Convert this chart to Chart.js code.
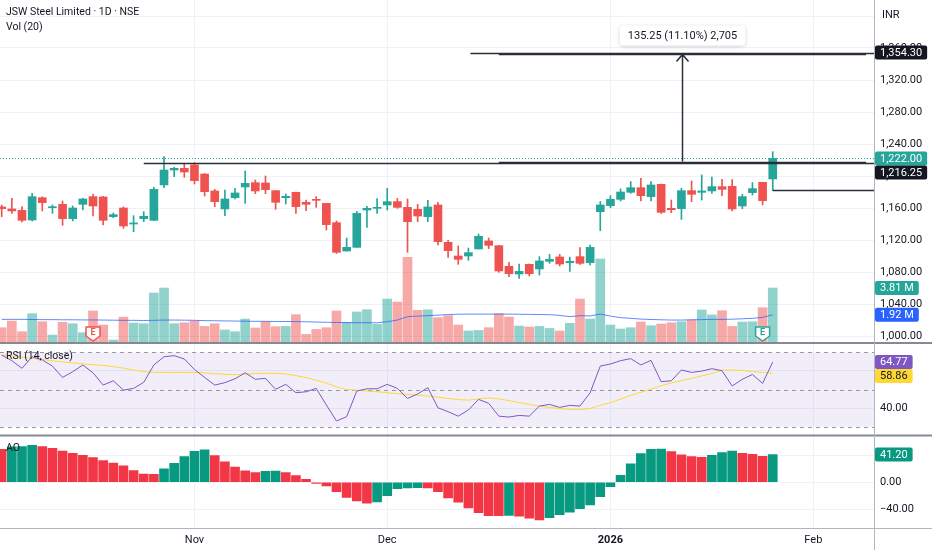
<!DOCTYPE html>
<html>
<head>
<meta charset="utf-8">
<title>JSW Steel Limited · 1D · NSE</title>
<script src="https://cdn.jsdelivr.net/npm/chart.js@4.4.1/dist/chart.umd.min.js"></script>
<style>
    html, body { margin: 0; padding: 0; background: #ffffff; }
    canvas { display: block; }
</style>
</head>
<body>
<canvas id="chart" width="932" height="550"></canvas>
<script>
// Daily bars (one entry per trading day)
const opens = [
    1161.3, 1158.8, 1157.1, 1145.0, 1172.9, 1160.4, 1164.6, 1146.7, 1164.6, 1174.2,
    1173.8, 1149.2, 1160.0, 1140.0, 1146.7, 1144.6, 1188.8, 1207.5, 1209.6, 1213.8,
    1202.5, 1181.3, 1158.8, 1172.9, 1186.3, 1191.7, 1191.3, 1181.7, 1172.9, 1179.6,
    1167.1, 1170.8, 1165.8, 1141.7, 1106.3, 1110.8, 1157.5, 1159.6, 1163.8, 1168.0,
    1160.8, 1158.3, 1149.2, 1163.8, 1117.1, 1100.0, 1100.0, 1108.8, 1118.8, 1112.9,
    1087.1, 1077.5, 1089.6, 1083.8, 1093.3, 1098.8, 1091.7, 1099.2, 1091.7, 1155.4,
    1162.9, 1170.8, 1179.6, 1185.4, 1174.2, 1189.6, 1159.6, 1159.2, 1181.7, 1179.6,
    1181.3, 1186.7, 1187.1, 1162.5, 1179.2, 1192.1, 1196.3
];
const highs = [
    1163.7, 1172.1, 1161.7, 1178.3, 1174.0, 1163.8, 1168.8, 1162.5, 1172.0, 1177.5,
    1174.6, 1153.8, 1161.3, 1150.4, 1155.4, 1185.8, 1224.2, 1210.8, 1215.8, 1216.7,
    1203.0, 1183.3, 1182.5, 1184.6, 1206.3, 1195.0, 1200.0, 1182.0, 1177.5, 1180.0,
    1170.0, 1174.2, 1166.0, 1143.8, 1122.5, 1155.8, 1162.0, 1171.7, 1184.6, 1172.0,
    1171.3, 1164.6, 1169.6, 1167.1, 1119.6, 1112.5, 1110.0, 1127.5, 1122.5, 1113.0,
    1092.1, 1090.0, 1090.0, 1099.2, 1102.0, 1102.0, 1098.8, 1110.4, 1113.8, 1168.0,
    1175.4, 1183.8, 1193.0, 1197.1, 1192.9, 1190.0, 1170.0, 1184.6, 1193.8, 1201.3,
    1198.8, 1195.8, 1195.4, 1177.1, 1191.7, 1192.1, 1230.4
];
const lows = [
    1149.2, 1153.3, 1142.5, 1143.8, 1156.3, 1153.3, 1138.3, 1143.8, 1157.5, 1150.0,
    1138.8, 1147.9, 1134.6, 1130.4, 1142.9, 1144.2, 1185.4, 1199.2, 1198.3, 1190.0,
    1175.0, 1161.7, 1150.4, 1171.3, 1165.8, 1177.9, 1177.9, 1158.3, 1165.0, 1153.3,
    1156.7, 1160.8, 1132.5, 1103.3, 1106.0, 1110.8, 1135.8, 1153.3, 1157.5, 1159.6,
    1104.6, 1142.9, 1142.9, 1113.8, 1098.3, 1089.6, 1094.6, 1108.8, 1109.2, 1079.6,
    1074.2, 1072.1, 1075.0, 1076.3, 1090.8, 1087.5, 1080.8, 1089.6, 1088.8, 1131.7,
    1160.4, 1168.8, 1178.3, 1168.8, 1168.8, 1153.3, 1154.2, 1145.8, 1167.9, 1170.0,
    1178.3, 1175.4, 1156.3, 1159.2, 1176.3, 1163.8, 1181.7
];
const closes = [
    1159.2, 1156.3, 1144.6, 1174.2, 1166.7, 1161.3, 1146.7, 1160.0, 1171.3, 1162.5,
    1144.6, 1151.7, 1137.5, 1141.3, 1149.6, 1183.3, 1207.5, 1209.6, 1205.0, 1194.2,
    1180.4, 1167.9, 1171.3, 1178.8, 1190.8, 1181.3, 1182.9, 1167.1, 1174.6, 1161.7,
    1164.6, 1169.6, 1139.2, 1104.6, 1110.8, 1153.3, 1159.6, 1160.0, 1167.9, 1160.8,
    1142.9, 1150.0, 1161.3, 1117.9, 1106.7, 1095.8, 1104.2, 1124.6, 1113.3, 1081.3,
    1077.9, 1080.8, 1077.9, 1093.8, 1095.8, 1090.0, 1093.3, 1090.8, 1110.8, 1163.8,
    1170.8, 1180.0, 1185.4, 1175.4, 1188.8, 1154.6, 1157.9, 1181.7, 1177.1, 1181.3,
    1186.7, 1183.3, 1158.8, 1174.2, 1184.2, 1169.2, 1222.0
];
// volume in millions, and its 20 day average
const volumes = [
    1.01, 1.48, 0.73, 2.00, 1.43, 0.49, 1.39, 1.29, 0.66, 2.19,
    1.20, 0.14, 1.76, 1.34, 1.29, 3.46, 3.81, 1.29, 1.36, 1.48,
    1.10, 1.29, 0.85, 0.73, 1.62, 0.99, 1.43, 1.08, 1.10, 1.93,
    0.54, 0.89, 1.01, 2.19, 1.39, 2.12, 2.28, 1.25, 3.03, 2.82,
    5.98, 2.24, 2.28, 1.72, 1.86, 1.20, 0.78, 0.82, 1.01, 2.00,
    1.76, 1.13, 1.06, 1.10, 0.96, 0.78, 1.32, 3.03, 1.62, 5.86,
    1.20, 0.92, 1.01, 1.41, 1.15, 1.27, 1.36, 1.43, 1.55, 2.26,
    1.91, 2.21, 1.10, 1.41, 1.43, 2.42, 3.81
];
const volumeMA = [
    1.60, 1.60, 1.60, 1.59, 1.58, 1.58, 1.57, 1.57, 1.56, 1.56,
    1.55, 1.54, 1.53, 1.53, 1.52, 1.53, 1.55, 1.55, 1.54, 1.53,
    1.51, 1.50, 1.49, 1.48, 1.47, 1.46, 1.46, 1.45, 1.45, 1.44,
    1.43, 1.41, 1.39, 1.38, 1.37, 1.36, 1.36, 1.36, 1.43, 1.55,
    1.79, 1.83, 1.86, 1.90, 1.94, 1.96, 1.97, 1.97, 1.97, 1.97,
    1.97, 1.96, 1.95, 1.94, 1.93, 1.88, 1.79, 1.86, 1.84, 1.97,
    1.83, 1.72, 1.67, 1.62, 1.59, 1.57, 1.55, 1.55, 1.57, 1.58,
    1.60, 1.60, 1.61, 1.64, 1.67, 1.74, 1.92
];
const rsiValues = [
    68.5, 65.5, 61.4, 67.6, 65.9, 62.6, 56.5, 59.6, 63.2, 59.0,
    52.4, 54.7, 49.7, 50.6, 53.9, 63.2, 67.6, 68.2, 66.4, 60.8,
    56.5, 52.4, 53.7, 55.8, 59.0, 55.5, 56.0, 50.1, 52.8, 48.3,
    48.8, 50.6, 41.7, 33.1, 35.4, 49.2, 50.4, 50.4, 52.8, 50.6,
    45.2, 47.6, 51.0, 40.2, 38.1, 35.7, 39.0, 44.7, 42.6, 35.7,
    35.2, 36.1, 35.7, 41.1, 42.0, 40.4, 41.5, 41.1, 48.3, 62.6,
    63.7, 65.5, 66.6, 63.2, 65.7, 54.2, 54.7, 60.5, 59.2, 59.9,
    61.2, 60.1, 51.9, 55.5, 58.1, 53.3, 64.77
];
const rsiMA = [
    68.5, 68.0, 67.4, 66.8, 66.2, 65.4, 64.8, 64.3, 63.8, 63.3,
    63.0, 62.3, 61.5, 60.5, 59.6, 59.2, 59.2, 59.2, 59.2, 59.2,
    58.9, 58.5, 58.2, 58.0, 58.3, 58.6, 58.7, 58.7, 58.4, 57.5,
    56.4, 55.0, 53.4, 51.5, 50.0, 49.6, 49.2, 48.8, 48.3, 47.8,
    47.4, 47.0, 46.5, 45.9, 45.2, 44.6, 44.3, 45.0, 45.5, 45.0,
    44.0, 43.0, 42.0, 41.1, 40.4, 39.8, 39.4, 39.3, 39.8, 41.5,
    43.0, 44.8, 46.8, 48.5, 50.3, 52.0, 53.5, 54.8, 56.0, 57.3,
    58.6, 60.4, 60.5, 60.2, 59.6, 59.2, 58.86
];
// Awesome Oscillator
const aoValues = [
    48.9, 52.5, 53.0, 54.7, 52.8, 50.3, 46.4, 42.9, 40.0, 36.5,
    32.3, 28.3, 24.3, 17.4, 12.2, 11.7, 20.0, 27.9, 38.0, 45.9,
    47.9, 39.5, 30.2, 22.7, 16.8, 14.3, 16.3, 16.6, 14.3, 9.9,
    4.4, -1.5, -5.5, -13.9, -22.3, -27.7, -31.1, -29.1, -19.8, -9.4,
    -8.4, -7.9, -8.4, -13.9, -23.3, -29.6, -38.0, -44.9, -49.4, -49.6,
    -49.0, -50.0, -53.3, -55.8, -52.3, -47.9, -44.4, -39.0, -33.6, -21.2,
    -6.4, 10.4, 27.2, 42.5, 48.9, 49.3, 45.4, 40.5, 38.0, 37.0,
    40.0, 43.9, 46.4, 43.0, 41.5, 38.5, 41.2
];

// axis ticks (bar index of the first session of each month)
const monthTicks = [19, 38, 60, 80];
const monthLabels = ["Nov", "Dec", "2026", "Feb"];
const priceTicks = [1000, 1040, 1080, 1120, 1160, 1200, 1240, 1280, 1320, 1360, 1400];
const rsiTicks = [40, 60];
const rsiLevels = [30, 50, 70];
const aoTicks = [-40, 0, 40];

// drawings: horizontal rays (level, starting bar) and the price range tool
const rayLevels = [1216.25, 1354.30, 1182.0];
const rayStarts = [14, 46.2, 76];
const rangeLevels = [1219.05, 1354.30];
const rangeBars = [49, 85.2];
const rangeText = "135.25 (11.10%) 2,705";
const earningsBars = [9, 75];
const earningsKinds = ["down", "up"];

const UP = "#26a69a";
const DOWN = "#ef5350";
const AO_UP = "#089981";
const AO_DOWN = "#f23645";
const GRID = "#eef1f6";
const TEXT = "#131722";
const LINE = "#2a2e39";

Chart.defaults.font.family = "Roboto, 'Noto Sans', sans-serif";
Chart.defaults.font.size = 11;
Chart.defaults.color = TEXT;

const n = closes.length;
const idx = closes.map((_, i) => i);
const isUp = (i) => closes[i] >= opens[i];
const fmtPrice = (v) =>
    v.toLocaleString("en-US", { minimumFractionDigits: 2, maximumFractionDigits: 2 });
const fmtSigned = (v) => (v < 0 ? "\u2212" + Math.abs(v).toFixed(2) : v.toFixed(2));

function hLine(ctx, x1, x2, y) {
    y = Math.round(y) + 0.5;
    ctx.beginPath();
    ctx.moveTo(x1, y);
    ctx.lineTo(x2, y);
    ctx.stroke();
}

function fitAxis(scale) {
    scale.width = 58;
    scale.paddingTop = 0;
    scale.paddingBottom = 0;
}

function drawBadge(ctx, x, y, text, bg, fg) {
    ctx.font = "11px Roboto, 'Noto Sans', sans-serif";
    const w = ctx.measureText(text).width + 10;
    ctx.fillStyle = bg;
    ctx.beginPath();
    ctx.roundRect(x + 1, y - 7, w, 14, 2);
    ctx.fill();
    ctx.fillStyle = fg;
    ctx.textAlign = "left";
    ctx.textBaseline = "middle";
    ctx.fillText(text, x + 6, y + 0.5);
}

const overlay = {
    id: "overlay",
    beforeDatasetsDraw(chart) {
        const { ctx, chartArea: a, scales } = chart;
        const rsi = scales.rsi;
        ctx.save();
        // RSI band between 30 and 70
        const yTop = rsi.getPixelForValue(rsiLevels[2]);
        const yBot = rsi.getPixelForValue(rsiLevels[0]);
        ctx.fillStyle = "rgba(126, 87, 194, 0.1)";
        ctx.fillRect(a.left, yTop, a.width, yBot - yTop);
        ctx.strokeStyle = "#9598a1";
        ctx.lineWidth = 1;
        ctx.setLineDash([4, 4]);
        rsiLevels.forEach((v) => hLine(ctx, a.left, a.right, rsi.getPixelForValue(v)));
        // last price line
        ctx.strokeStyle = UP;
        ctx.setLineDash([1, 2]);
        hLine(ctx, a.left, a.right, scales.price.getPixelForValue(closes[n - 1]));
        ctx.restore();
    },
    afterDatasetsDraw(chart) {
        const { ctx, chartArea: a, scales } = chart;
        const { x, price } = scales;
        ctx.save();
        ctx.strokeStyle = LINE;
        ctx.lineWidth = 1.5;
        rayLevels.forEach((lvl, k) => {
            hLine(ctx, x.getPixelForValue(rayStarts[k]), a.right, price.getPixelForValue(lvl));
        });

        // price range measurement
        const rx1 = x.getPixelForValue(rangeBars[0]);
        const rx2 = x.getPixelForValue(rangeBars[1]);
        const yLo = Math.round(price.getPixelForValue(rangeLevels[0])) + 0.5;
        const yHi = Math.round(price.getPixelForValue(rangeLevels[1])) + 0.5;
        hLine(ctx, rx1, rx2, yLo);
        hLine(ctx, rx1, rx2, yHi);
        const cx = Math.round((rx1 + rx2) / 2) + 0.5;
        ctx.beginPath();
        ctx.moveTo(cx, yLo);
        ctx.lineTo(cx, yHi);
        ctx.moveTo(cx - 6, yHi + 8);
        ctx.lineTo(cx, yHi + 1);
        ctx.lineTo(cx + 6, yHi + 8);
        ctx.stroke();

        ctx.font = "11px Roboto, 'Noto Sans', sans-serif";
        const bw = ctx.measureText(rangeText).width + 16;
        const bh = 20;
        const by = yHi - 8 - bh;
        ctx.shadowColor = "rgba(0, 0, 0, 0.18)";
        ctx.shadowBlur = 4;
        ctx.shadowOffsetY = 1;
        ctx.fillStyle = "#ffffff";
        ctx.beginPath();
        ctx.roundRect(cx - bw / 2, by, bw, bh, 4);
        ctx.fill();
        ctx.shadowColor = "transparent";
        ctx.fillStyle = TEXT;
        ctx.textAlign = "center";
        ctx.textBaseline = "middle";
        ctx.fillText(rangeText, cx, by + bh / 2 + 0.5);

        // earnings markers
        earningsBars.forEach((b, k) => {
            const col = earningsKinds[k] === "up" ? UP : DOWN;
            const mx = x.getPixelForValue(b);
            const bottom = price.bottom - 2;
            const top = bottom - 15;
            ctx.beginPath();
            ctx.moveTo(mx - 7, top + 1);
            ctx.lineTo(mx + 7, top + 1);
            ctx.lineTo(mx + 7, top + 10);
            ctx.lineTo(mx, bottom);
            ctx.lineTo(mx - 7, top + 10);
            ctx.closePath();
            ctx.lineJoin = "round";
            ctx.fillStyle = "#ffffff";
            ctx.fill();
            ctx.strokeStyle = col;
            ctx.lineWidth = 1.5;
            ctx.stroke();
            ctx.fillStyle = col;
            ctx.font = "bold 9px Roboto, 'Noto Sans', sans-serif";
            ctx.textAlign = "center";
            ctx.textBaseline = "middle";
            ctx.fillText("E", mx, top + 6.5);
        });
        ctx.restore();
    },
    afterDraw(chart) {
        const { ctx, chartArea: a, scales, width, height } = chart;
        const { price, rsi, ao, vol } = scales;
        ctx.save();
        // pane separators and axis borders
        ctx.strokeStyle = "#868993";
        ctx.lineWidth = 2;
        [price.bottom, rsi.bottom].forEach((y) => {
            ctx.beginPath();
            ctx.moveTo(0, y);
            ctx.lineTo(width, y);
            ctx.stroke();
        });
        ctx.strokeStyle = "#b2b5be";
        ctx.lineWidth = 1;
        hLine(ctx, 0, width, a.bottom);
        ctx.beginPath();
        ctx.moveTo(Math.round(a.right) + 0.5, 0);
        ctx.lineTo(Math.round(a.right) + 0.5, height);
        ctx.stroke();

        // last value badges on the right scale
        const badges = [
            { s: price, v: rayLevels[1], t: fmtPrice(rayLevels[1]), bg: TEXT, fg: "#ffffff" },
            { s: price, v: closes[n - 1], t: fmtPrice(closes[n - 1]), bg: UP, fg: "#ffffff" },
            { s: price, v: rayLevels[0], t: fmtPrice(rayLevels[0]), bg: TEXT, fg: "#ffffff" },
            { s: vol, v: volumes[n - 1], t: volumes[n - 1].toFixed(2) + " M", bg: UP, fg: "#ffffff" },
            { s: vol, v: volumeMA[n - 1], t: volumeMA[n - 1].toFixed(2) + " M", bg: "#2962ff", fg: "#ffffff" },
            { s: rsi, v: rsiValues[n - 1], t: rsiValues[n - 1].toFixed(2), bg: "#7e57c2", fg: "#ffffff" },
            { s: rsi, v: rsiMA[n - 1], t: rsiMA[n - 1].toFixed(2), bg: "#fdd835", fg: TEXT },
            { s: ao, v: aoValues[n - 1], t: fmtSigned(aoValues[n - 1]), bg: AO_UP, fg: "#ffffff" },
        ];
        const placed = [];
        badges.forEach((b) => {
            let y = b.s.getPixelForValue(b.v);
            placed.forEach((p) => {
                if (Math.abs(y - p) < 14) y = p + 14;
            });
            placed.push(y);
            drawBadge(ctx, a.right, y, b.t, b.bg, b.fg);
        });

        // legends
        ctx.fillStyle = TEXT;
        ctx.textAlign = "left";
        ctx.textBaseline = "middle";
        ctx.font = "10.5px Roboto, 'Noto Sans', sans-serif";
        ctx.fillText("JSW Steel Limited \u00b7 1D \u00b7 NSE", 6, 12);
        ctx.fillText("Vol (20)", 6, 27);
        ctx.fillText("RSI (14, close)", 6, rsi.top + 13);
        ctx.fillText("AO", 6, ao.top + 13);
        ctx.font = "11px Roboto, 'Noto Sans', sans-serif";
        ctx.fillText("INR", a.right + 8, 15);
        ctx.restore();
    },
};

const candleColor = (c) => (isUp(c.dataIndex) ? UP : DOWN);
const volumeColor = (c) => (isUp(c.dataIndex) ? "rgba(38, 166, 154, 0.5)" : "rgba(239, 83, 80, 0.5)");
const aoColor = (c) => {
    const i = c.dataIndex;
    return i > 0 && aoValues[i] > aoValues[i - 1] ? AO_UP : AO_DOWN;
};

new Chart(document.getElementById("chart"), {
    type: "bar",
    data: {
        datasets: [
            {
                label: "Body",
                data: idx.map((i) => ({ x: i, y: [opens[i], closes[i]] })),
                yAxisID: "price",
                backgroundColor: candleColor,
                barThickness: 8,
                minBarLength: 1,
                grouped: false,
            },
            {
                label: "Wick",
                data: idx.map((i) => ({ x: i, y: [lows[i], highs[i]] })),
                yAxisID: "price",
                backgroundColor: candleColor,
                barThickness: 1,
                grouped: false,
            },
            {
                type: "line",
                label: "Vol MA",
                data: idx.map((i) => ({ x: i, y: volumeMA[i] })),
                yAxisID: "vol",
                borderColor: "rgba(41, 98, 255, 0.75)",
                borderWidth: 1,
                pointRadius: 0,
            },
            {
                label: "Volume",
                data: idx.map((i) => ({ x: i, y: volumes[i] })),
                yAxisID: "vol",
                backgroundColor: volumeColor,
                barThickness: 9,
                grouped: false,
            },
            {
                type: "line",
                label: "RSI",
                data: idx.map((i) => ({ x: i, y: rsiValues[i] })),
                yAxisID: "rsi",
                borderColor: "#7e57c2",
                borderWidth: 1,
                pointRadius: 0,
            },
            {
                type: "line",
                label: "RSI MA",
                data: idx.map((i) => ({ x: i, y: rsiMA[i] })),
                yAxisID: "rsi",
                borderColor: "#fdd835",
                borderWidth: 1,
                pointRadius: 0,
            },
            {
                label: "AO",
                data: idx.map((i) => ({ x: i, y: aoValues[i] })),
                yAxisID: "ao",
                backgroundColor: aoColor,
                barThickness: 9,
                grouped: false,
            },
        ],
    },
    options: {
        responsive: false,
        animation: false,
        layout: { padding: 0 },
        plugins: {
            legend: { display: false },
            tooltip: { enabled: false },
        },
        scales: {
            x: {
                type: "linear",
                offset: false,
                min: -0.168,
                max: 85.98,
                afterBuildTicks: (s) => {
                    s.ticks = monthTicks.map((v) => ({ value: v }));
                },
                afterFit: (s) => {
                    s.height = 22;
                    s.paddingLeft = 0;
                    s.paddingRight = 0;
                },
                grid: { color: GRID, drawTicks: false, offset: false },
                border: { display: false },
                ticks: {
                    padding: 6,
                    autoSkip: false,
                    maxRotation: 0,
                    color: TEXT,
                    callback: (v, i) => monthLabels[i],
                    font: (c) => ({
                        size: 11,
                        weight: monthLabels[c.index] === "2026" ? "bold" : "normal",
                    }),
                },
            },
            price: {
                position: "right",
                stack: "panes",
                stackWeight: 343,
                min: 991.25,
                max: 1420,
                afterBuildTicks: (s) => {
                    s.ticks = priceTicks.map((v) => ({ value: v }));
                },
                afterFit: fitAxis,
                grid: { color: GRID, drawTicks: false },
                border: { display: false },
                ticks: {
                    padding: 6,
                    color: TEXT,
                    callback: (v) => (v === 1400 ? "" : fmtPrice(v)),
                },
            },
            rsi: {
                position: "right",
                stack: "panes",
                stackWeight: 92.5,
                min: 25.3,
                max: 75.0,
                afterBuildTicks: (s) => {
                    s.ticks = rsiTicks.map((v) => ({ value: v }));
                },
                afterFit: fitAxis,
                grid: { color: GRID, drawTicks: false },
                border: { display: false },
                ticks: { padding: 6, color: TEXT, callback: (v) => v.toFixed(2) },
            },
            ao: {
                position: "right",
                stack: "panes",
                stackWeight: 92.5,
                min: -67.7,
                max: 69.3,
                afterBuildTicks: (s) => {
                    s.ticks = aoTicks.map((v) => ({ value: v }));
                },
                afterFit: fitAxis,
                grid: { color: GRID, drawTicks: false },
                border: { display: false },
                ticks: { padding: 6, color: TEXT, callback: (v) => fmtSigned(v) },
            },
            vol: {
                display: false,
                position: "right",
                min: -13.12,
                max: 24.13,
            },
        },
    },
    plugins: [overlay],
});
</script>
</body>
</html>
